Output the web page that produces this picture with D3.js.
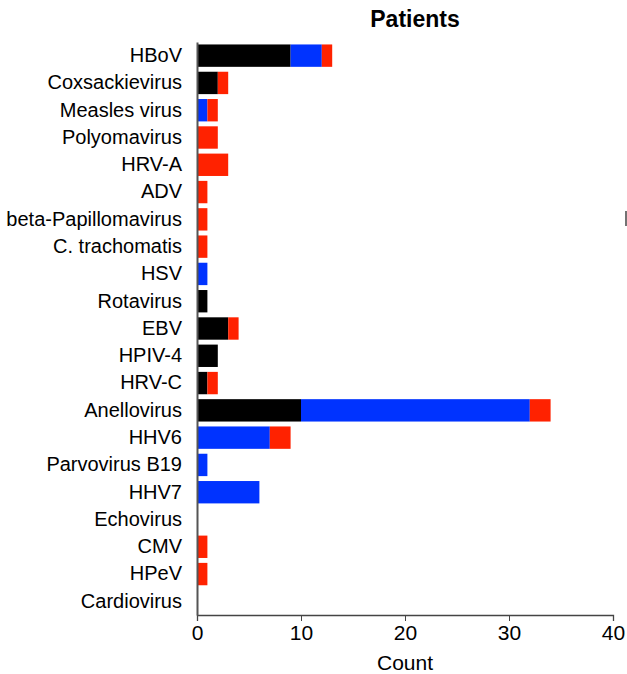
<!DOCTYPE html>
<html>
<head>
<meta charset="utf-8">
<script src="https://cdn.jsdelivr.net/npm/d3@7"></script>
<style>
  body { margin: 0; background: #fff; }
  text { font-family: "Liberation Sans", Arial, sans-serif; }
</style>
</head>
<body>
<div id="chart"></div>
<script>
// data
var categories = ["HBoV", "Coxsackievirus", "Measles virus", "Polyomavirus", "HRV-A", "ADV",
  "beta-Papillomavirus", "C. trachomatis", "HSV", "Rotavirus", "EBV", "HPIV-4", "HRV-C",
  "Anellovirus", "HHV6", "Parvovirus B19", "HHV7", "Echovirus", "CMV", "HPeV", "Cardiovirus"];
var blackVals = [9, 2, 0, 0, 0, 0, 0, 0, 0, 1, 3, 2, 1, 10, 0, 0, 0, 0, 0, 0, 0];
var blueVals  = [3, 0, 1, 0, 0, 0, 0, 0, 1, 0, 0, 0, 0, 22, 7, 1, 6, 0, 0, 0, 0];
var redVals   = [1, 1, 1, 2, 3, 1, 1, 1, 0, 0, 1, 0, 1, 2, 2, 0, 0, 0, 1, 1, 0];
var xTicks = [0, 10, 20, 30, 40];

var seriesKeys = ["black", "blue", "red"];
var seriesColors = { black: "#000000", blue: "#0033ff", red: "#ff2200" };

var width = 627, height = 674;
var margin = { top: 42, right: 14, bottom: 59, left: 197 };
var fontFam = "Liberation Sans, Arial, sans-serif";

var svg = d3.select("#chart").append("svg")
  .attr("width", width)
  .attr("height", height);

var rows = categories.map(function (c, i) {
  return { name: c, black: blackVals[i], blue: blueVals[i], red: redVals[i] };
});

var x = d3.scaleLinear()
  .domain([0, 40])
  .range([margin.left, width - margin.right]);

var y = d3.scaleBand()
  .domain(categories)
  .range([margin.top, height - margin.bottom])
  .paddingInner(0.18)
  .paddingOuter(0.09);

var stack = d3.stack().keys(seriesKeys)(rows);

svg.append("g")
  .selectAll("g")
  .data(stack)
  .enter().append("g")
  .attr("fill", function (d) { return seriesColors[d.key]; })
  .selectAll("rect")
  .data(function (d) { return d; })
  .enter().append("rect")
  .filter(function (d) { return d[1] > d[0]; })
  .attr("x", function (d) { return x(d[0]); })
  .attr("y", function (d) { return y(d.data.name); })
  .attr("width", function (d) { return x(d[1]) - x(d[0]); })
  .attr("height", y.bandwidth());

// x axis
var xAxis = svg.append("g")
  .attr("transform", "translate(0," + (height - margin.bottom) + ")")
  .call(d3.axisBottom(x).tickValues(xTicks).tickSize(6).tickPadding(4));
xAxis.select(".domain").attr("stroke", "#444").attr("stroke-width", 1.3);
xAxis.selectAll(".tick line").attr("stroke", "#444");
xAxis.selectAll("text").attr("font-size", 21).attr("fill", "#000")
  .style("font-family", fontFam);

// y axis
var yAxis = svg.append("g")
  .attr("transform", "translate(" + margin.left + ",0)")
  .call(d3.axisLeft(y).tickSize(0).tickPadding(15).tickSizeOuter(0));
yAxis.select(".domain").attr("stroke", "#555").attr("stroke-width", 2);
yAxis.selectAll("text").attr("font-size", 20).attr("fill", "#000")
  .style("font-family", fontFam);

// title and axis label
svg.append("text")
  .attr("x", 415)
  .attr("y", 27)
  .attr("text-anchor", "middle")
  .attr("font-size", 23)
  .attr("font-weight", "bold")
  .text("Patients");

svg.append("text")
  .attr("x", (x(0) + x(40)) / 2)
  .attr("y", 670)
  .attr("text-anchor", "middle")
  .attr("font-size", 21)
  .text("Count");

// small clipped mark at the right edge
svg.append("line")
  .attr("x1", 626).attr("x2", 626)
  .attr("y1", 211).attr("y2", 226)
  .attr("stroke", "#444").attr("stroke-width", 1.5);
</script>
</body>
</html>
